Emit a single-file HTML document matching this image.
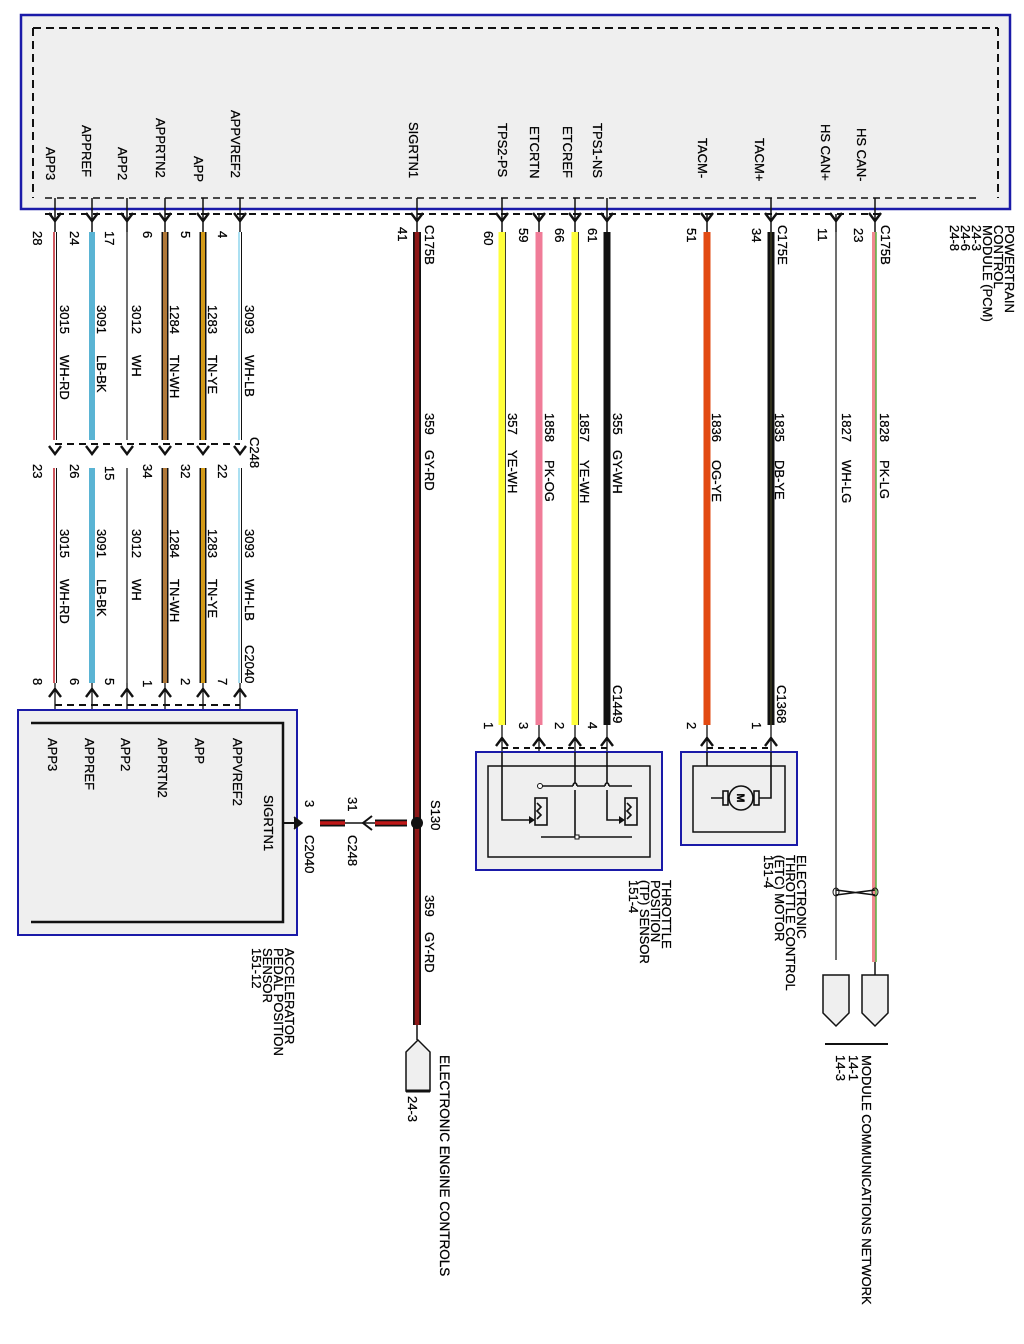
<!DOCTYPE html>
<html><head><meta charset="utf-8"><style>
html,body{margin:0;padding:0;background:#fff;width:1024px;height:1344px;overflow:hidden}
svg text{font-family:"Liberation Sans",sans-serif;font-size:13px;fill:#000;stroke:#000;stroke-width:0.25}
</style></head><body>
<svg width="1024" height="1344" viewBox="0 0 1024 1344" xmlns="http://www.w3.org/2000/svg">
<rect x="21" y="15" width="989" height="194" fill="#efefef" stroke="#1a1aa8" stroke-width="2.5"/>
<path d="M33 28 H998 M33 28 V198 M998 28 V198" stroke="#111" stroke-width="2" stroke-dasharray="8,5" fill="none"/>
<path d="M45 198 H980" stroke="#111" stroke-width="1.5" stroke-dasharray="7,5"/>
<path d="M45 214 H880" stroke="#111" stroke-width="2" stroke-dasharray="7,5"/>
<g stroke="#111" stroke-width="1.5" fill="none">
<path d="M55 198V232M92 198V232M127 198V232M165 198V232M203 198V232M240 198V232M417 198V232M502 198V232M539 214V232M575 198V232M607 198V232M707 214V232M771 198V232M836 214V232M875 198V232"/>
</g>
<g stroke="#111" stroke-width="2.4" fill="none">
<path d="M49 213L55 221L61 213M86 213L92 221L98 213M121 213L127 221L133 213M159 213L165 221L171 213M197 213L203 221L209 213M234 213L240 221L246 213M411 213L417 221L423 213M496 213L502 221L508 213M533 213L539 221L545 213M569 213L575 221L581 213M601 213L607 221L613 213M701 213L707 221L713 213M765 213L771 221L777 213M830 213L836 221L842 213M869 213L875 221L881 213"/>
<path d="M55 444H240" stroke-width="2" stroke-dasharray="7,5"/>
<path d="M49 446L55 454L61 446M86 446L92 454L98 446M121 446L127 454L133 446M159 446L165 454L171 446M197 446L203 454L209 446M234 446L240 454L246 446"/>
<path d="M55 705H240" stroke-width="2" stroke-dasharray="7,5"/>
<path d="M49 697L55 689L61 697M86 697L92 689L98 697M121 697L127 689L133 697M159 697L165 689L171 697M197 697L203 689L209 697M234 697L240 689L246 697"/>
<path d="M502 748H607M707 748H771" stroke-width="2" stroke-dasharray="6,5"/>
<path d="M496 746L502 738L508 746M533 746L539 738L545 746M569 746L575 738L581 746M601 746L607 738L613 746M701 746L707 738L713 746M765 746L771 738L777 746"/>
</g>
<g>
<text transform="translate(46,147) rotate(90)">APP3</text>
<text transform="translate(82,125) rotate(90)">APPREF</text>
<text transform="translate(118,147) rotate(90)">APP2</text>
<text transform="translate(156,118) rotate(90)">APPRTN2</text>
<text transform="translate(194,156) rotate(90)">APP</text>
<text transform="translate(231,110) rotate(90)">APPVREF2</text>
<text transform="translate(409,122) rotate(90)">SIGRTN1</text>
<text transform="translate(498,123) rotate(90)">TPS2-PS</text>
<text transform="translate(530,126) rotate(90)">ETCRTN</text>
<text transform="translate(563,126) rotate(90)">ETCREF</text>
<text transform="translate(593,123) rotate(90)">TPS1-NS</text>
<text transform="translate(698,138) rotate(90)">TACM-</text>
<text transform="translate(755,138) rotate(90)">TACM+</text>
<text transform="translate(821,124) rotate(90)">HS CAN+</text>
<text transform="translate(857,128) rotate(90)">HS CAN-</text>
<text transform="translate(1005,225) rotate(90)"><tspan x="0" dy="0">POWERTRAIN</tspan><tspan x="0" dy="11">CONTROL</tspan><tspan x="0" dy="11">MODULE (PCM)</tspan><tspan x="0" dy="11">24-3</tspan><tspan x="0" dy="11">24-6</tspan><tspan x="0" dy="11">24-8</tspan></text>
</g>
<g>
<text transform="translate(33,231) rotate(90)">28</text>
<text transform="translate(70,231) rotate(90)">24</text>
<text transform="translate(105,231) rotate(90)">17</text>
<text transform="translate(143,231) rotate(90)">6</text>
<text transform="translate(181,231) rotate(90)">5</text>
<text transform="translate(218,231) rotate(90)">4</text>
<text transform="translate(398,227) rotate(90)">41</text>
<text transform="translate(425,225) rotate(90)">C175B</text>
<text transform="translate(484,231) rotate(90)">60</text>
<text transform="translate(519,228) rotate(90)">59</text>
<text transform="translate(555,228) rotate(90)">66</text>
<text transform="translate(588,228) rotate(90)">61</text>
<text transform="translate(687,228) rotate(90)">51</text>
<text transform="translate(752,228) rotate(90)">34</text>
<text transform="translate(778,225) rotate(90)">C175E</text>
<text transform="translate(818,228) rotate(90)">11</text>
<text transform="translate(854,228) rotate(90)">23</text>
<text transform="translate(881,225) rotate(90)">C175B</text>
<text transform="translate(250,437) rotate(90)">C248</text>
<text transform="translate(33,464) rotate(90)">23</text>
<text transform="translate(70,464) rotate(90)">26</text>
<text transform="translate(105,466) rotate(90)">15</text>
<text transform="translate(143,464) rotate(90)">34</text>
<text transform="translate(181,464) rotate(90)">32</text>
<text transform="translate(218,464) rotate(90)">22</text>
<text transform="translate(245,645) rotate(90)">C2040</text>
<text transform="translate(33,678) rotate(90)">8</text>
<text transform="translate(70,678) rotate(90)">6</text>
<text transform="translate(105,678) rotate(90)">5</text>
<text transform="translate(143,680) rotate(90)">1</text>
<text transform="translate(181,678) rotate(90)">2</text>
<text transform="translate(218,678) rotate(90)">7</text>
<text transform="translate(613,685) rotate(90)">C1449</text>
<text transform="translate(484,722) rotate(90)">1</text>
<text transform="translate(519,722) rotate(90)">3</text>
<text transform="translate(555,722) rotate(90)">2</text>
<text transform="translate(588,722) rotate(90)">4</text>
<text transform="translate(777,685) rotate(90)">C1368</text>
<text transform="translate(687,722) rotate(90)">2</text>
<text transform="translate(752,722) rotate(90)">1</text>
</g>
<g fill="none">
<path d="M56.5 232V440M56.5 468V683" stroke="#111" stroke-width="1"/>
<path d="M54 232V440M54 468V683" stroke="#c0202a" stroke-width="1.5"/>
<path d="M92 232V440M92 468V683" stroke="#5ab4d4" stroke-width="6"/>
<path d="M127 232V440M127 468V683" stroke="#111" stroke-width="1.2"/>
<path d="M165 232V440M165 468V683" stroke="#111" stroke-width="7"/>
<path d="M165 232V440M165 468V683" stroke="#b07838" stroke-width="4"/>
<path d="M203 232V440M203 468V683" stroke="#111" stroke-width="7"/>
<path d="M203 232V440M203 468V683" stroke="#d39a18" stroke-width="4"/>
<path d="M241.5 232V440M241.5 468V683" stroke="#111" stroke-width="1"/>
<path d="M239 232V440M239 468V683" stroke="#8fd6ee" stroke-width="1.5"/>
<path d="M417 232V1025" stroke="#111" stroke-width="8"/>
<path d="M417 232V1025" stroke="#8e1818" stroke-width="4.5"/>
<path d="M502 232V725" stroke="#ffff3a" stroke-width="7"/>
<path d="M505.5 232V725" stroke="#111" stroke-width="0.8"/>
<path d="M539 232V725" stroke="#f07c98" stroke-width="7"/>
<path d="M575 232V725" stroke="#ffff3a" stroke-width="7"/>
<path d="M578.5 232V725" stroke="#111" stroke-width="0.8"/>
<path d="M607 232V725" stroke="#111" stroke-width="7"/>
<path d="M707 232V725" stroke="#e24a12" stroke-width="7"/>
<path d="M771 232V725" stroke="#111" stroke-width="7"/>
<path d="M771 232V725" stroke="#3a3a20" stroke-width="1.5"/>
<path d="M836 232V960" stroke="#111" stroke-width="1.2"/>
<path d="M874 232V962" stroke="#f08890" stroke-width="4"/>
<path d="M876 232V962" stroke="#5ab040" stroke-width="1.5"/>
<path d="M502 725V752M539 725V752M575 725V752M607 725V752M707 725V752M771 725V752M55 683V723M92 683V723M127 683V723M165 683V723M203 683V723M240 683V723" stroke="#111" stroke-width="1.3"/>
</g>
<g>
<text transform="translate(245,305) rotate(90)">3093</text><text transform="translate(245,355) rotate(90)">WH-LB</text>
<text transform="translate(208,305) rotate(90)">1283</text><text transform="translate(208,355) rotate(90)">TN-YE</text>
<text transform="translate(170,305) rotate(90)">1284</text><text transform="translate(170,355) rotate(90)">TN-WH</text>
<text transform="translate(132,305) rotate(90)">3012</text><text transform="translate(132,355) rotate(90)">WH</text>
<text transform="translate(97,305) rotate(90)">3091</text><text transform="translate(97,355) rotate(90)">LB-BK</text>
<text transform="translate(60,305) rotate(90)">3015</text><text transform="translate(60,355) rotate(90)">WH-RD</text>
<text transform="translate(245,529) rotate(90)">3093</text><text transform="translate(245,579) rotate(90)">WH-LB</text>
<text transform="translate(208,529) rotate(90)">1283</text><text transform="translate(208,579) rotate(90)">TN-YE</text>
<text transform="translate(170,529) rotate(90)">1284</text><text transform="translate(170,579) rotate(90)">TN-WH</text>
<text transform="translate(132,529) rotate(90)">3012</text><text transform="translate(132,579) rotate(90)">WH</text>
<text transform="translate(97,529) rotate(90)">3091</text><text transform="translate(97,579) rotate(90)">LB-BK</text>
<text transform="translate(60,529) rotate(90)">3015</text><text transform="translate(60,579) rotate(90)">WH-RD</text>
<text transform="translate(425,413) rotate(90)">359</text><text transform="translate(425,450) rotate(90)">GY-RD</text>
<text transform="translate(425,895) rotate(90)">359</text><text transform="translate(425,932) rotate(90)">GY-RD</text>
<text transform="translate(508,413) rotate(90)">357</text><text transform="translate(508,450) rotate(90)">YE-WH</text>
<text transform="translate(545,413) rotate(90)">1858</text><text transform="translate(545,460) rotate(90)">PK-OG</text>
<text transform="translate(580,413) rotate(90)">1857</text><text transform="translate(580,460) rotate(90)">YE-WH</text>
<text transform="translate(613,413) rotate(90)">355</text><text transform="translate(613,450) rotate(90)">GY-WH</text>
<text transform="translate(712,413) rotate(90)">1836</text><text transform="translate(712,460) rotate(90)">OG-YE</text>
<text transform="translate(775,413) rotate(90)">1835</text><text transform="translate(775,460) rotate(90)">DB-YE</text>
<text transform="translate(842,413) rotate(90)">1827</text><text transform="translate(842,460) rotate(90)">WH-LG</text>
<text transform="translate(880,413) rotate(90)">1828</text><text transform="translate(880,460) rotate(90)">PK-LG</text>
</g>
<rect x="18" y="710" width="279" height="225" fill="#efefef" stroke="#1a1aa8" stroke-width="2"/>
<path d="M31 723H283V922H31" fill="none" stroke="#111" stroke-width="2.5"/>
<g>
<text transform="translate(48,738) rotate(90)">APP3</text>
<text transform="translate(85,738) rotate(90)">APPREF</text>
<text transform="translate(121,738) rotate(90)">APP2</text>
<text transform="translate(158,738) rotate(90)">APPRTN2</text>
<text transform="translate(195,738) rotate(90)">APP</text>
<text transform="translate(233,738) rotate(90)">APPVREF2</text>
<text transform="translate(264,795) rotate(90)">SIGRTN1</text>
<text transform="translate(285,948) rotate(90)"><tspan x="0" dy="0">ACCELERATOR</tspan><tspan x="0" dy="11">PEDAL POSITION</tspan><tspan x="0" dy="11">SENSOR</tspan><tspan x="0" dy="11">151-12</tspan></text>
</g>
<path d="M283 823H300" stroke="#111" stroke-width="2"/>
<path d="M294 817L302 823L294 829" fill="#111" stroke="#111" stroke-width="1.5"/>
<path d="M320 823H345M375 823H407" stroke="#111" stroke-width="7"/>
<path d="M320 823H345M375 823H407" stroke="#c01818" stroke-width="3.5"/>
<path d="M345 823H375" stroke="#111" stroke-width="1.5"/>
<path d="M372 816L363 823L372 830" fill="none" stroke="#111" stroke-width="2"/>
<circle cx="417" cy="823" r="6" fill="#111"/>
<text transform="translate(305,800) rotate(90)">3</text>
<text transform="translate(305,835) rotate(90)">C2040</text>
<text transform="translate(348,797) rotate(90)">31</text>
<text transform="translate(348,835) rotate(90)">C248</text>
<text transform="translate(431,800) rotate(90)">S130</text>
<path d="M406 1052L418 1040L430 1052V1091H406Z" fill="#efefef" stroke="#111" stroke-width="1.5"/>
<path d="M406 1091H430" stroke="#111" stroke-width="3"/>
<path d="M417 1025V1040" stroke="#111" stroke-width="1.5"/>
<text transform="translate(440,1055) rotate(90)" style="font-size:13.5px">ELECTRONIC ENGINE CONTROLS</text>
<text transform="translate(408,1096) rotate(90)">24-3</text>
<rect x="476" y="752" width="186" height="118" fill="#efefef" stroke="#1a1aa8" stroke-width="2"/>
<rect x="488" y="766" width="162" height="91" fill="none" stroke="#111" stroke-width="1.5"/>
<g stroke="#111" stroke-width="1.6" fill="none">
<path d="M502 752V820H530"/>
<path d="M540 786H573M577 786H605M609 786H632"/>
<path d="M573 786A2 3 0 0 1 577 786M605 786A2 3 0 0 1 609 786"/>
<path d="M575 752V783M575 790V837M607 752V783M607 790V820H620"/>
<path d="M541 837H632"/>
<rect x="535" y="798" width="12" height="27"/>
<rect x="625" y="798" width="12" height="27"/>
<path d="M537 803l4 4l-4 4l4 4l-4 4M627 803l4 4l-4 4l4 4l-4 4"/>
</g>
<circle cx="540" cy="786" r="2.5" fill="#fff" stroke="#111"/>
<rect x="575" y="835" width="4" height="4" fill="#fff" stroke="#111"/>
<path d="M529 816L535 820L529 824Z M619 816L625 820L619 824Z" fill="#111"/>
<text transform="translate(662,880) rotate(90)"><tspan x="0" dy="0">THROTTLE</tspan><tspan x="0" dy="11">POSITION</tspan><tspan x="0" dy="11">(TP) SENSOR</tspan><tspan x="0" dy="11">151-4</tspan></text>
<rect x="681" y="752" width="116" height="93" fill="#efefef" stroke="#1a1aa8" stroke-width="2"/>
<rect x="693" y="766" width="92" height="66" fill="none" stroke="#111" stroke-width="1.5"/>
<g stroke="#111" stroke-width="1.6" fill="none">
<path d="M707 752V766M771 752V798H759M711 798H723"/>
<rect x="723" y="791" width="5" height="14"/>
<rect x="754" y="791" width="5" height="14"/>
<circle cx="741" cy="798" r="12" fill="#efefef"/>
</g>
<text x="741" y="802" transform="rotate(90 741 798)" text-anchor="middle" style="font-size:11px;font-weight:bold">M</text>
<text transform="translate(797,855) rotate(90)"><tspan x="0" dy="0">ELECTRONIC</tspan><tspan x="0" dy="11">THROTTLE CONTROL</tspan><tspan x="0" dy="11">(ETC) MOTOR</tspan><tspan x="0" dy="11">151-4</tspan></text>
<path d="M836 895L875 890M836 890L875 895" stroke="#111" stroke-width="1.5" fill="none"/>
<ellipse cx="836" cy="892" rx="3" ry="4" fill="none" stroke="#111"/>
<ellipse cx="875" cy="892" rx="3" ry="4" fill="none" stroke="#111"/>
<path d="M875 962V975" stroke="#111" stroke-width="1.5"/>
<path d="M823 975H849V1013L836 1026L823 1013Z M862 975H888V1013L875 1026L862 1013Z" fill="#efefef" stroke="#111" stroke-width="1.5"/>
<path d="M825 1044H888" stroke="#111" stroke-width="2"/>
<text transform="translate(862,1055) rotate(90)">MODULE COMMUNICATIONS NETWORK</text>
<text transform="translate(849,1055) rotate(90)">14-1</text>
<text transform="translate(836,1055) rotate(90)">14-3</text>
</svg>
</body></html>
